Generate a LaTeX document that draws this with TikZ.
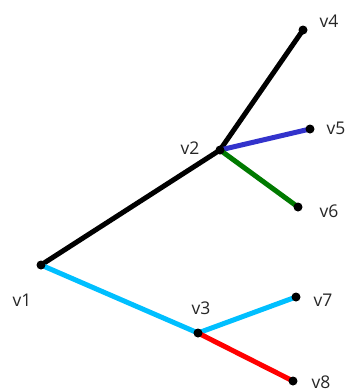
\documentclass[tikz,border=0pt]{standalone}
\usepackage{fontspec}
\setmainfont{Open Sans}
\usetikzlibrary{backgrounds}
\definecolor{tSky}{HTML}{00BFFF}
\definecolor{tBlue}{HTML}{3333CC}
\definecolor{tGreen}{HTML}{007A00}
\definecolor{tRed}{HTML}{FF0000}
\definecolor{tText}{HTML}{262626}

\begin{document}
\begin{tikzpicture}[x=1pt,y=-1pt,font=\fontsize{17.5}{20}\selectfont,
  vtx/.style={circle,fill=black,inner sep=0pt,minimum size=9pt},
  edge/.style={line width=5pt},
  lbl/.style={text=tText,inner sep=0pt}]
  \useasboundingbox (0,0) rectangle (347,389);
  \node[vtx] (v1) at (41,265) {};
  \node[vtx] (v2) at (220,150) {};
  \node[vtx] (v3) at (198,333) {};
  \node[vtx] (v4) at (303,30) {};
  \node[vtx] (v5) at (310,129) {};
  \node[vtx] (v6) at (298,207) {};
  \node[vtx] (v7) at (296,297) {};
  \node[vtx] (v8) at (293,381) {};
  \node[lbl] (l1) at (22,300) {v1};
  \node[lbl] (l2) at (190,148) {v2};
  \node[lbl] (l3) at (201,308) {v3};
  \node[lbl] (l4) at (329,21) {v4};
  \node[lbl] (l5) at (336,128) {v5};
  \node[lbl] (l6) at (329,211) {v6};
  \node[lbl] (l7) at (323,300) {v7};
  \node[lbl] (l8) at (321,382) {v8};
  \begin{pgfonlayer}{background}
    \draw[edge,black] (v1.center) -- (v2.center);
    \draw[edge,black] (v2.center) -- (v4.center);
    \draw[edge,tBlue] (v2.center) -- (v5.center);
    \draw[edge,tGreen] (v2.center) -- (v6.center);
    \draw[edge,tSky] (v1.center) -- (v3.center);
    \draw[edge,tSky] (v3.center) -- (v7.center);
    \draw[edge,tRed] (v3.center) -- (v8.center);
  \end{pgfonlayer}
\end{tikzpicture}
\end{document}
